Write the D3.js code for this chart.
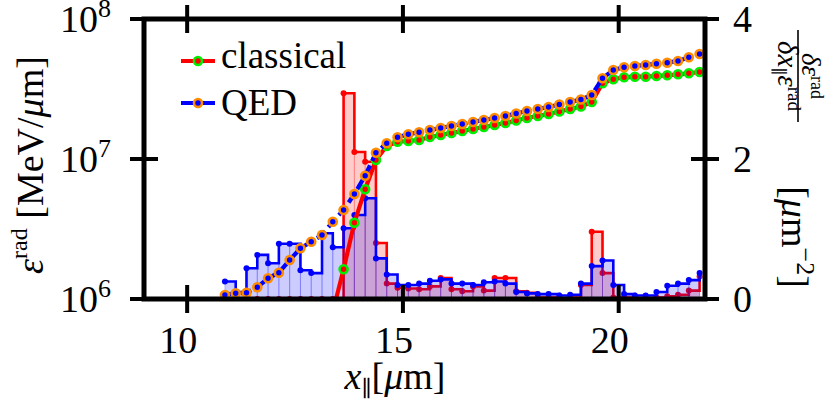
<!DOCTYPE html>
<html><head><meta charset="utf-8">
<script src="https://cdn.jsdelivr.net/npm/d3@7"></script>
<style>body{margin:0;background:#fff} svg{display:block} text{font-family:'Liberation Serif','Times New Roman','DejaVu Serif',serif;} .gr{font-family:'DejaVu Serif',serif;}</style>
</head><body><svg id="c" width="830" height="404"></svg>
<script>
const xs = [10.875,11.125,11.375,11.625,11.875,12.125,12.375,12.625,12.875,13.125,13.375,13.625,13.875,14.125,14.375,14.625,14.875,15.125,15.375,15.625,15.875,16.125,16.375,16.625,16.875,17.125,17.375,17.625,17.875,18.125,18.375,18.625,18.875,19.125,19.375,19.625,19.875,20.125,20.375,20.625,20.875,21.125,21.375,21.625,21.875];
const qedEnergy = [1.068e6,1.098e6,1.109e6,1.212e6,1.406e6,1.541e6,1.899e6,2.302e6,2.567e6,2.865e6,3.566e6,4.323e6,5.623e6,7.598e6,1.109e7,1.295e7,1.429e7,1.501e7,1.551e7,1.611e7,1.665e7,1.721e7,1.778e7,1.838e7,1.899e7,1.963e7,2.028e7,2.113e7,2.202e7,2.276e7,2.352e7,2.451e7,2.553e7,2.661e7,2.865e7,3.771e7,4.323e7,4.519e7,4.616e7,4.693e7,4.794e7,4.874e7,5.012e7,5.326e7,5.623e7];
const classicalEnergy = [null,null,null,null,null,null,null,null,null,null,8.1e5,1.630e6,3.508e6,6.075e6,9.837e6,1.239e7,1.329e7,1.345e7,1.367e7,1.436e7,1.484e7,1.533e7,1.585e7,1.638e7,1.693e7,1.750e7,1.808e7,1.884e7,1.963e7,2.028e7,2.096e7,2.184e7,2.276e7,2.371e7,2.553e7,3.473e7,3.710e7,3.834e7,3.872e7,3.872e7,3.917e7,3.962e7,4.027e7,4.094e7,4.183e7];
const qedHist = [0.25,0.10,0.44,0.63,0.51,0.79,0.79,0.41,0.37,0.94,0.74,1.01,1.20,1.44,0.58,0.35,0.20,0.20,0.22,0.26,0.28,0.22,0.22,0.20,0.24,0.25,0.22,0.10,0.08,0.07,0.07,0.05,0.06,0.22,0.47,0.55,0.20,0.07,0.05,0.05,0.10,0.19,0.22,0.27,0.37];
const classicalHist = [0,0,0,0,0,0,0,0,0,0,0,2.94,2.10,1.96,0.80,0.22,0.16,0.15,0.14,0.18,0.30,0.14,0.11,0.18,0.12,0.30,0.30,0.11,0.09,0.02,0.02,0.01,0.02,0.20,0.96,0.37,0.02,0.02,0.01,0.01,0.02,0.04,0.06,0.12,0.32];
const xTicks = [10,15,20];
const yLeftTicks = [1e6,1e7,1e8];
const yLeftExp = ["6","7","8"];
const yRightTicks = [0,2,4];

const svg = d3.select('#c');
const x = d3.scaleLinear().domain([9,22]).range([144,705]);
const yL = d3.scaleLog().domain([1e6,1e8]).range([299,19]);
const yR = d3.scaleLinear().domain([0,4]).range([299,19]);

svg.append('defs').append('clipPath').attr('id','clip')
  .append('rect').attr('x',144).attr('y',19).attr('width',561).attr('height',280);
const plot = svg.append('g').attr('clip-path','url(#clip)');

function hist(vals, color){
  const pts = xs.map((d,i)=>({x:d, v:vals[i]}));
  const g = plot.append('g');
  g.selectAll('rect').data(pts.slice(0,-1)).join('rect')
    .attr('x',(d)=>x(d.x))
    .attr('width',(d,i)=>x(xs[i+1])-x(d.x))
    .attr('y',d=>yR(d.v))
    .attr('height',d=>yR(0)-yR(d.v))
    .attr('fill',color).attr('fill-opacity',0.2)
    .attr('stroke',color).attr('stroke-opacity',0.22).attr('stroke-width',1);
  g.append('path').datum(pts)
    .attr('d', d3.line().x(d=>x(d.x)).y(d=>yR(d.v)).curve(d3.curveStepAfter))
    .attr('fill','none').attr('stroke',color).attr('stroke-width',2.6);
  g.selectAll('circle').data(pts).join('circle')
    .attr('cx',d=>x(d.x)).attr('cy',d=>yR(d.v)).attr('r',3).attr('fill',color);
}
hist(classicalHist,'#ff0000');
hist(qedHist,'#0000ff');

function curve(vals, lineColor, edgeColor, dash){
  const pts = xs.map((d,i)=>({x:d, v:vals[i]})).filter(d=>d.v!==null);
  const g = plot.append('g');
  g.append('path').datum(pts)
    .attr('d', d3.line().x(d=>x(d.x)).y(d=>yL(d.v)))
    .attr('fill','none').attr('stroke',lineColor).attr('stroke-width',4.2)
    .attr('stroke-dasharray',dash);
  g.selectAll('circle').data(pts).join('circle')
    .attr('cx',d=>x(d.x)).attr('cy',d=>yL(d.v)).attr('r',4)
    .attr('fill',lineColor).attr('stroke',edgeColor).attr('stroke-width',2.6);
}
curve(classicalEnergy,'#ff0000','#00ee00',null);
curve(qedEnergy,'#0000ff','#ff8c00','11,5');

// spines
svg.append('rect').attr('x',144).attr('y',19).attr('width',561).attr('height',280)
  .attr('fill','none').attr('stroke','#000').attr('stroke-width',5);
const tk = svg.append('g').attr('stroke','#000').attr('stroke-width',4);
xTicks.forEach(t=>{
  tk.append('line').attr('x1',x(t)).attr('x2',x(t)).attr('y1',285).attr('y2',313);
  tk.append('line').attr('x1',x(t)).attr('x2',x(t)).attr('y1',5).attr('y2',33);
});
yLeftTicks.forEach(t=>{
  tk.append('line').attr('x1',130).attr('x2',158).attr('y1',yL(t)).attr('y2',yL(t));
});
yRightTicks.forEach(t=>{
  tk.append('line').attr('x1',691).attr('x2',719).attr('y1',yR(t)).attr('y2',yR(t));
});

const txt = svg.append('g').attr('fill','#000');
xTicks.forEach(t=>{
  txt.append('text').attr('x',x(t)-9).attr('y',353).attr('text-anchor','middle')
    .attr('font-size',38).text(t);
});
yLeftTicks.forEach((t,i)=>{
  const tt = txt.append('text').attr('x',111).attr('y',yL(t)+13).attr('text-anchor','end').attr('font-size',38);
  tt.append('tspan').text('10');
  tt.append('tspan').attr('font-size',26).attr('dy',-15).text(yLeftExp[i]);
});
yRightTicks.forEach(t=>{
  txt.append('text').attr('x',733).attr('y',yR(t)+13).attr('font-size',38).text(t);
});

// left label
const ll = txt.append('text').attr('transform','translate(43,165) rotate(-90)')
  .attr('text-anchor','middle').attr('font-size',38);
ll.append('tspan').attr('font-style','italic').text('ε');
ll.append('tspan').attr('font-size',24).attr('dy',-16).text('rad');
ll.append('tspan').attr('dy',16).text(' [MeV/');
ll.append('tspan').attr('font-style','italic').text('μ');
ll.append('tspan').text('m]');

// x label
const xl = txt.append('text').attr('x',395).attr('y',389).attr('text-anchor','middle').attr('font-size',38);
xl.append('tspan').attr('font-style','italic').text('x');
xl.append('tspan').attr('class','gr').attr('font-size',22).attr('dy',7).text('∥');
xl.append('tspan').attr('dy',-7).text('[');
xl.append('tspan').attr('font-style','italic').text('μ');
xl.append('tspan').text('m]');

// right label: fraction
const fr = txt.append('g').attr('transform','translate(798,76) rotate(90)');
fr.append('line').attr('x1',-46).attr('x2',46).attr('y1',0).attr('y2',0).attr('stroke','#000').attr('stroke-width',1.6);
const num = fr.append('text').attr('x',0).attr('y',-4).attr('text-anchor','middle').attr('font-size',27);
num.append('tspan').attr('font-style','italic').text('δε');
num.append('tspan').attr('font-size',18).attr('dy',-9).text('rad');
const den = fr.append('text').attr('x',0).attr('y',20).attr('text-anchor','middle').attr('font-size',29);
den.append('tspan').attr('font-style','italic').text('δx');
den.append('tspan').attr('class','gr').attr('font-size',17).attr('dy',5).text('∥');
den.append('tspan').attr('font-style','italic').attr('dy',-5).text('ε');
den.append('tspan').attr('font-size',19).attr('dy',-10).text('rad');
const un = txt.append('text').attr('transform','translate(782,237) rotate(90)')
  .attr('text-anchor','middle').attr('font-size',38);
un.append('tspan').text('[');
un.append('tspan').attr('font-style','italic').text('μ');
un.append('tspan').text('m');
un.append('tspan').attr('font-size',26).attr('dy',-15).text('−2');
un.append('tspan').attr('dy',15).text(']');

// legend
const leg = svg.append('g');
[['classical','#ff0000','#00ee00',61,null],['QED','#0000ff','#ff8c00',103,'11,5']].forEach(r=>{
  leg.append('line').attr('x1',181).attr('x2',215).attr('y1',r[3]).attr('y2',r[3])
    .attr('stroke',r[1]).attr('stroke-width',4.2);
  leg.append('circle').attr('cx',198).attr('cy',r[3]).attr('r',4)
    .attr('fill',r[1]).attr('stroke',r[2]).attr('stroke-width',2.6);
  leg.append('text').attr('x',221).attr('y',r[3]+7 + (r[0]==='QED'?5:0))
    .attr('font-size',37).text(r[0]);
});
</script></body></html>
